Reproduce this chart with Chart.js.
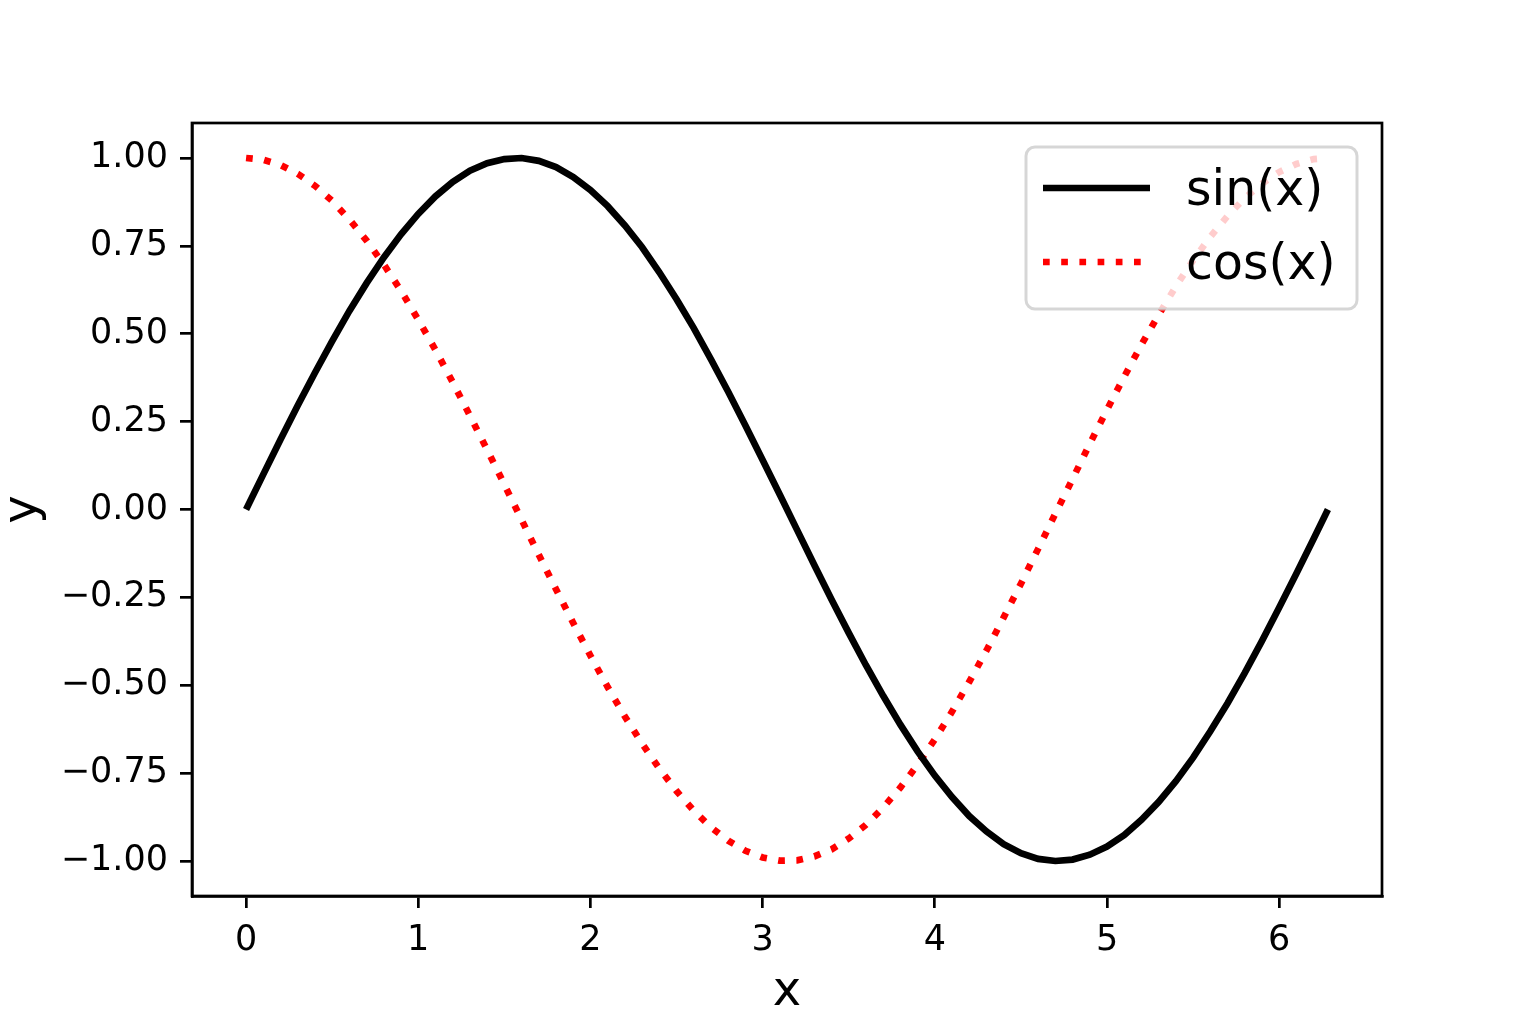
<!DOCTYPE html>
<html>
<head>
<meta charset="utf-8">
<script src="https://cdn.jsdelivr.net/npm/chart.js@4"></script>
<style>
  body { margin: 0; background: #fff; }
  #wrap { width: 1536px; height: 1024px; }
</style>
</head>
<body>
<div id="wrap"><canvas id="myChart" width="1536" height="1024"></canvas></div>
<script>
const xValues = [0, 0.1, 0.2, 0.3, 0.4, 0.5, 0.6, 0.7, 0.8, 0.9, 1.0, 1.1, 1.2, 1.3, 1.4, 1.5,
  1.6, 1.7, 1.8, 1.9, 2.0, 2.1, 2.2, 2.3, 2.4, 2.5, 2.6, 2.7, 2.8, 2.9, 3.0, 3.1,
  3.2, 3.3, 3.4, 3.5, 3.6, 3.7, 3.8, 3.9, 4.0, 4.1, 4.2, 4.3, 4.4, 4.5, 4.6, 4.7,
  4.8, 4.9, 5.0, 5.1, 5.2, 5.3, 5.4, 5.5, 5.6, 5.7, 5.8, 5.9, 6.0, 6.1, 6.2, 6.283];
const sinValues = [0, 0.1, 0.199, 0.296, 0.389, 0.479, 0.565, 0.644, 0.717, 0.783, 0.841, 0.891, 0.932, 0.964, 0.985, 0.997,
  1.0, 0.992, 0.974, 0.946, 0.909, 0.863, 0.808, 0.746, 0.675, 0.598, 0.516, 0.427, 0.335, 0.239, 0.141, 0.042,
  -0.058, -0.158, -0.256, -0.351, -0.443, -0.53, -0.612, -0.688, -0.757, -0.818, -0.872, -0.916, -0.952, -0.978, -0.994, -1.0,
  -0.996, -0.982, -0.959, -0.926, -0.883, -0.832, -0.773, -0.706, -0.631, -0.551, -0.465, -0.374, -0.279, -0.182, -0.083, 0];
const cosValues = [1.0, 0.995, 0.98, 0.955, 0.921, 0.878, 0.825, 0.765, 0.697, 0.622, 0.54, 0.454, 0.362, 0.267, 0.17, 0.071,
  -0.029, -0.129, -0.227, -0.323, -0.416, -0.505, -0.589, -0.666, -0.737, -0.801, -0.857, -0.904, -0.942, -0.971, -0.99, -0.999,
  -0.998, -0.987, -0.967, -0.936, -0.897, -0.848, -0.791, -0.726, -0.654, -0.575, -0.49, -0.401, -0.307, -0.211, -0.112, -0.012,
  0.087, 0.187, 0.284, 0.378, 0.469, 0.554, 0.635, 0.709, 0.776, 0.835, 0.886, 0.927, 0.96, 0.983, 0.997, 1.0];
const seriesNames = ["sin(x)", "cos(x)"];
const xTicks = [0, 1, 2, 3, 4, 5, 6];
const yTicks = [-1.0, -0.75, -0.5, -0.25, 0, 0.25, 0.5, 0.75, 1.0];

const FONT = "'DejaVu Sans', sans-serif";

// top + right spines, then the legend box (matplotlib style, upper right)
const framePlugin = {
  id: "frame",
  afterDatasetsDraw(chart) {
    const ctx = chart.ctx;
    const a = chart.chartArea;
    ctx.save();
    ctx.strokeStyle = "#000";
    ctx.lineWidth = 2.7;
    ctx.strokeRect(a.left, a.top, a.right - a.left, a.bottom - a.top);

    const bx = 1026, by = 147, bw = 331, bh = 162, r = 9;
    ctx.beginPath();
    ctx.roundRect(bx, by, bw, bh, r);
    ctx.fillStyle = "rgba(255,255,255,0.8)";
    ctx.fill();
    ctx.strokeStyle = "rgba(204,204,204,0.8)";
    ctx.lineWidth = 3;
    ctx.stroke();

    const rows = [188, 262];
    chart.data.datasets.forEach((ds, i) => {
      ctx.beginPath();
      ctx.strokeStyle = ds.borderColor;
      ctx.lineWidth = ds.borderWidth;
      ctx.setLineDash(ds.borderDash || []);
      ctx.moveTo(1043, rows[i]);
      ctx.lineTo(1150, rows[i]);
      ctx.stroke();
      ctx.setLineDash([]);
      ctx.fillStyle = "#000";
      ctx.font = "49px " + FONT;
      ctx.textBaseline = "middle";
      ctx.fillText(ds.label, 1186, rows[i] + 4);
    });
    ctx.restore();
  }
};

const config = {
  type: "line",
  data: {
    datasets: [
      {
        label: seriesNames[0],
        data: xValues.map((x, i) => ({ x: x, y: sinValues[i] })),
        borderColor: "#000000",
        borderWidth: 6.7,
        pointRadius: 0,
        tension: 0,
        fill: false,
      },
      {
        label: seriesNames[1],
        data: xValues.map((x, i) => ({ x: x, y: cosValues[i] })),
        borderColor: "#ff0000",
        borderWidth: 6.7,
        borderDash: [6.7, 11.5],
        pointRadius: 0,
        tension: 0,
        fill: false,
      },
    ],
  },
  options: {
    responsive: false,
    animation: false,
    layout: { padding: { top: 123, right: 154, left: 0, bottom: 0 } },
    plugins: { legend: { display: false }, tooltip: { enabled: false } },
    scales: {
      x: {
        type: "linear",
        min: -0.314,
        max: 6.597,
        afterBuildTicks: (s) => { s.ticks = xTicks.map((v) => ({ value: v })); },
        afterFit: (s) => { s.height = 128; },
        grid: { drawOnChartArea: false, drawTicks: true, tickLength: 12, color: "#000", lineWidth: 2.7 },
        border: { display: true, color: "#000", width: 2.7 },
        ticks: { color: "#000", font: { family: FONT, size: 35 }, padding: 12, maxRotation: 0 },
        title: { display: true, text: "x", color: "#000", font: { family: FONT, size: 48, lineHeight: 1 }, padding: { top: 0, bottom: 7 } },
      },
      y: {
        min: -1.0996,
        max: 1.0996,
        afterBuildTicks: (s) => { s.ticks = yTicks.map((v) => ({ value: v })); },
        afterFit: (s) => { s.width = 192; },
        grid: { drawOnChartArea: false, drawTicks: true, tickLength: 12, color: "#000", lineWidth: 2.7 },
        border: { display: true, color: "#000", width: 2.7 },
        ticks: {
          color: "#000",
          font: { family: FONT, size: 35 },
          padding: 12,
          callback: (v) => (v < 0 ? "\u2212" : "") + Math.abs(v).toFixed(2),
        },
        title: { display: true, text: "y", color: "#000", font: { family: FONT, size: 48, lineHeight: 1 }, padding: { top: 0, bottom: 0 } },
      },
    },
  },
  plugins: [framePlugin],
};

new Chart(document.getElementById("myChart"), config);
</script>
</body>
</html>
